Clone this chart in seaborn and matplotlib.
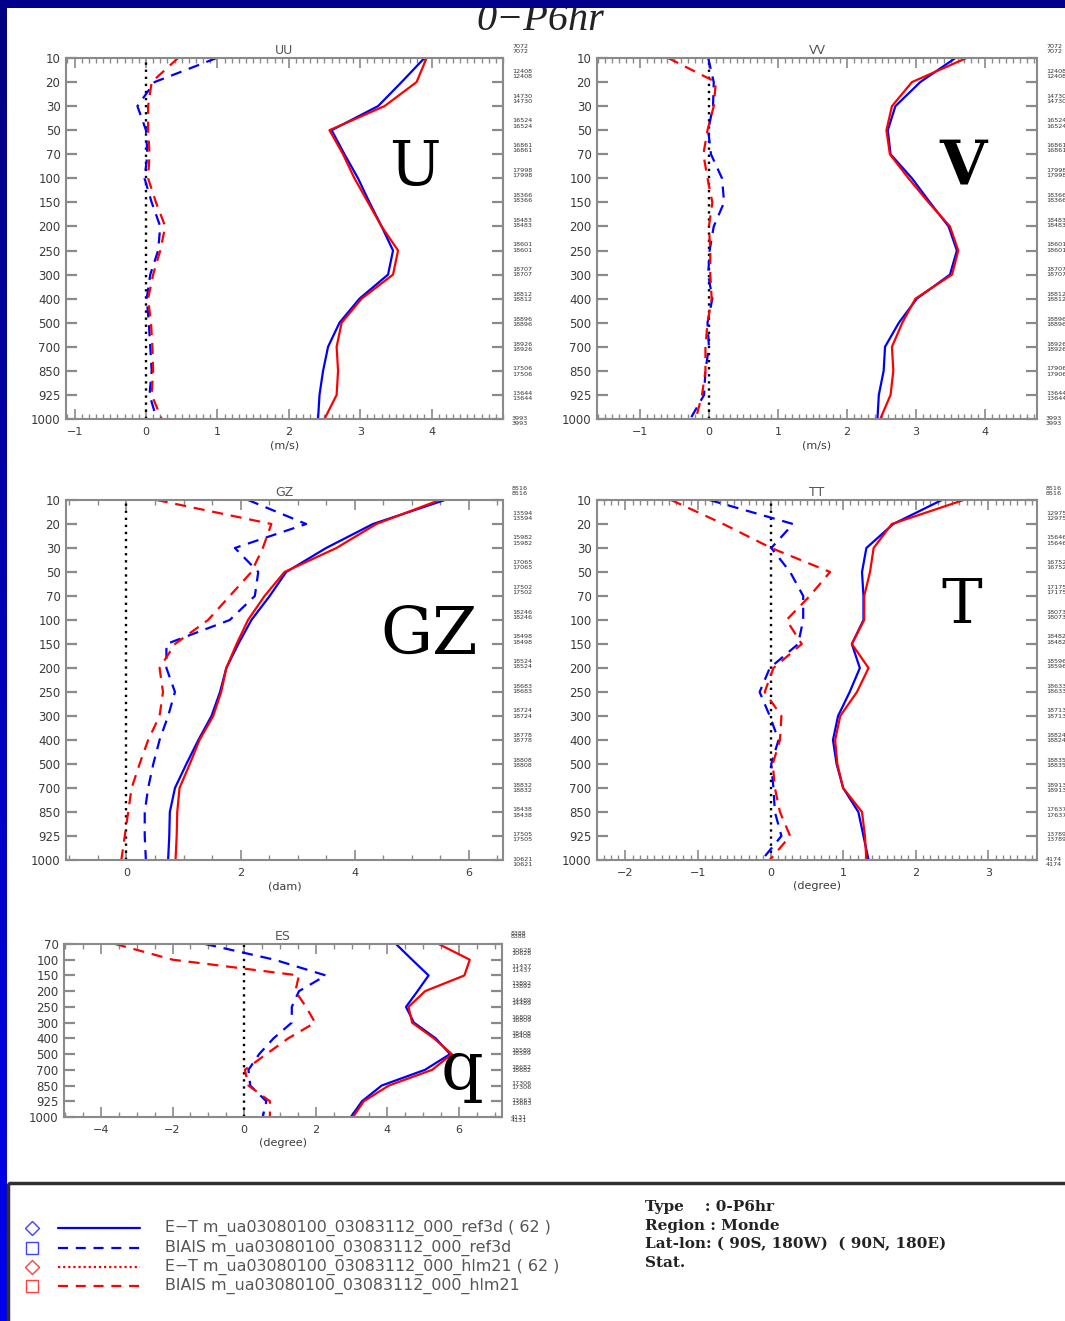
import numpy as np
import matplotlib
matplotlib.use("Agg")
import matplotlib.pyplot as plt
from matplotlib.colors import LinearSegmentedColormap
from matplotlib.patches import Rectangle
from matplotlib.ticker import MultipleLocator, NullLocator
import seaborn as sns

# ---------------- data ----------------
LEVELS = [10, 20, 30, 50, 70, 100, 150, 200, 250, 300, 400, 500, 700, 850, 925, 1000]
ES_LEVELS = [70, 100, 150, 200, 250, 300, 400, 500, 700, 850, 925, 1000]

UU_ET_REF = [3.90, 3.58, 3.25, 2.60, 2.78, 2.97, 3.13, 3.30, 3.46, 3.39, 2.99, 2.71, 2.55, 2.48, 2.43, 2.41]
UU_ET_HLM = [3.93, 3.79, 3.34, 2.57, 2.76, 2.92, 3.11, 3.30, 3.53, 3.46, 3.02, 2.74, 2.67, 2.69, 2.67, 2.50]
UU_BIAS_REF = [0.99, 0.12, -0.12, 0.00, 0.02, -0.02, 0.08, 0.20, 0.17, 0.06, 0.01, 0.04, 0.06, 0.08, 0.05, 0.15]
UU_BIAS_HLM = [0.45, 0.08, 0.03, 0.03, 0.05, 0.03, 0.14, 0.27, 0.20, 0.10, 0.03, 0.07, 0.09, 0.10, 0.08, 0.22]

VV_ET_REF = [3.57, 3.06, 2.70, 2.59, 2.63, 2.94, 3.20, 3.47, 3.59, 3.49, 3.01, 2.75, 2.55, 2.53, 2.46, 2.44]
VV_ET_HLM = [3.73, 2.94, 2.65, 2.57, 2.62, 2.89, 3.18, 3.49, 3.61, 3.52, 2.99, 2.80, 2.65, 2.67, 2.63, 2.48]
VV_BIAS_REF = [-0.01, 0.07, 0.06, -0.01, 0.03, 0.19, 0.22, 0.07, 0.01, -0.01, 0.05, -0.02, 0.00, -0.05, -0.07, -0.27]
VV_BIAS_HLM = [-0.59, 0.10, 0.07, -0.02, -0.08, -0.02, 0.05, 0.00, 0.02, 0.02, 0.04, -0.02, -0.05, -0.05, -0.10, -0.19]

GZ_ET_REF = [5.58, 4.32, 3.50, 2.80, 2.51, 2.19, 1.96, 1.75, 1.64, 1.49, 1.26, 1.05, 0.85, 0.76, 0.75, 0.73]
GZ_ET_HLM = [5.49, 4.38, 3.68, 2.77, 2.42, 2.13, 1.93, 1.75, 1.66, 1.52, 1.28, 1.11, 0.93, 0.89, 0.88, 0.86]
GZ_BIAS_REF = [2.13, 3.15, 1.90, 2.31, 2.25, 1.81, 0.70, 0.70, 0.85, 0.73, 0.58, 0.47, 0.38, 0.32, 0.32, 0.34]
GZ_BIAS_HLM = [0.53, 2.54, 2.39, 2.19, 1.81, 1.43, 0.85, 0.58, 0.64, 0.58, 0.38, 0.23, 0.09, 0.03, -0.03, -0.09]

TT_ET_REF = [2.36, 1.69, 1.32, 1.26, 1.28, 1.28, 1.12, 1.23, 1.09, 0.93, 0.86, 0.91, 1.00, 1.21, 1.28, 1.35]
TT_ET_HLM = [2.66, 1.67, 1.42, 1.37, 1.29, 1.29, 1.12, 1.35, 1.19, 0.96, 0.89, 0.92, 1.00, 1.26, 1.30, 1.32]
TT_BIAS_REF = [-0.84, 0.31, 0.01, 0.27, 0.45, 0.45, 0.38, -0.01, -0.15, -0.01, 0.11, 0.01, 0.04, 0.06, 0.15, -0.12]
TT_BIAS_HLM = [-1.37, -0.65, 0.01, 0.82, 0.54, 0.22, 0.43, 0.04, -0.08, 0.15, 0.13, 0.03, 0.06, 0.13, 0.27, -0.01]

ES_ET_REF = [4.24, 4.69, 5.15, 4.84, 4.52, 4.74, 5.35, 5.75, 5.05, 3.84, 3.29, 2.98]
ES_ET_HLM = [5.43, 6.30, 6.15, 5.05, 4.59, 4.69, 5.30, 5.80, 5.25, 4.04, 3.34, 3.04]
ES_BIAS_REF = [-1.09, 0.85, 2.28, 1.53, 1.33, 1.33, 0.82, 0.42, 0.12, 0.17, 0.62, 0.52]
ES_BIAS_HLM = [-3.60, -1.99, 1.53, 1.43, 1.73, 1.98, 1.23, 0.62, 0.02, 0.12, 0.72, 0.72]

UU_N = [7072, 12408, 14730, 16524, 16861, 17998, 18366, 18483, 18601, 18707, 18812, 18896, 18926, 17506, 13644, 3993]
VV_N = [7072, 12408, 14730, 16524, 16861, 17998, 18366, 18483, 18601, 18707, 18812, 18896, 18926, 17906, 13644, 3993]
GZ_N = [8516, 13594, 15982, 17065, 17502, 18246, 18498, 18524, 18683, 18724, 18778, 18808, 18832, 18438, 17505, 10621]
TT_N = [8516, 12975, 15646, 16752, 17175, 18073, 18482, 18596, 18633, 18713, 18824, 18835, 18913, 17637, 13789, 4174]
ES_N = [8388, 10628, 11437, 13892, 14489, 16809, 18408, 18589, 18682, 17306, 13663, 4131]

LEGEND_LABELS = ["E\u2212T m_ua03080100_03083112_000_ref3d ( 62 )",
                 "BIAIS m_ua03080100_03083112_000_ref3d",
                 "E\u2212T m_ua03080100_03083112_000_hlm21 ( 62 )",
                 "BIAIS m_ua03080100_03083112_000_hlm21"]
INFO_LINES = ["Type    : 0-P6hr", "Region : Monde",
              "Lat-lon: ( 90S, 180W)  ( 90N, 180E)", "Stat."]

# ---------------- style ----------------
sns.set_style("ticks")
plt.rcParams['font.family'] = ['DejaVu Sans']
plt.rcParams['axes.edgecolor'] = '#8a8a8a'
plt.rcParams['axes.linewidth'] = 1.5

W, H = 1065, 1321
fig = plt.figure(figsize=(W / 100, H / 100), dpi=100)
fig.patch.set_facecolor('white')

BLUE = '#0000ff'
RED = '#ff0000'
DASH = (0, (5, 3.5))
GRAY = '#8a8a8a'
TXT = '#3a3a3a'


def px_rect(x0, y0, x1, y1):
    return [x0 / W, 1 - y1 / H, (x1 - x0) / W, (y1 - y0) / H]


# background: blue gradient strip on the left, legend frame
bg = fig.add_axes([0, 0, 1, 1], zorder=0)
grad = np.linspace(0, 1, 256).reshape(-1, 1)
cmap = LinearSegmentedColormap.from_list('bl', ['#000080', '#0000f0'])
bg.imshow(grad, extent=[0, 6.5, H, 0], cmap=cmap, aspect='auto', zorder=1)
bg.add_patch(Rectangle((8, 1183), W, 200, fill=False, edgecolor='#303030', lw=2.5, zorder=2))
bg.set_xlim(0, W)
bg.set_ylim(H, 0)
bg.axis('off')

# legend
leg_y = [1228, 1248, 1267, 1286]
markers = ['D', 's', 'D', 's']
mcols = [BLUE, BLUE, RED, RED]
lstyles = ['-', (0, (4.5, 3.5)), (0, (1, 1.3)), (0, (4.5, 3.5))]
for y, mk, c, ls, lab in zip(leg_y, markers, mcols, lstyles, LEGEND_LABELS):
    bg.plot([32], [y], marker=mk, ms=9 if mk == 's' else 7, mfc='none', mec=c, mew=1.0,
            alpha=0.75, zorder=3)
    bg.plot([58, 140], [y, y], color=c, lw=1.6, ls=ls, zorder=3)
    bg.text(165, y, lab, fontsize=11.4, color='#555555', va='center', ha='left', zorder=3,
            family='DejaVu Sans')
for i, line in enumerate(INFO_LINES):
    bg.text(645, 1207 + i * 18.7, line, fontsize=11.0, color='#222222', va='center', ha='left',
            family='DejaVu Serif', fontweight='bold', zorder=3)


def panel(box, title, xlabel, levels, series, counts, xlim, xticks, minor,
          gap=2.6, lab_size=8.5):
    ax = fig.add_axes(px_rect(*box), zorder=1)
    ax.set_facecolor('white')
    pos = np.arange(len(levels))
    et_ref, bias_ref, et_hlm, bias_hlm = series
    ax.axvline(0, color='black', lw=1.7, ls=(0, (1, 2.0)), zorder=1)
    for vals, col, ls in [(bias_ref, BLUE, DASH), (bias_hlm, RED, DASH),
                          (et_ref, BLUE, '-'), (et_hlm, RED, '-')]:
        sns.lineplot(x=vals, y=pos, ax=ax, color=col, linestyle=ls, linewidth=1.6,
                     orient='y', estimator=None, legend=False)
    ax.set_ylim(len(levels) - 1, 0)
    ax.set_xlim(*xlim)
    ax.set_yticks(pos, [str(l) for l in levels])
    ax.yaxis.set_minor_locator(NullLocator())
    ax.tick_params(axis='y', which='major', direction='in', length=8, width=1.6, colors=GRAY,
                   left=True, right=True, labelcolor=TXT, labelsize=lab_size, pad=4)
    ax.set_xticks(xticks, [f"{t:d}".replace('-', '\u2212') for t in xticks])
    ax.xaxis.set_minor_locator(MultipleLocator(minor))
    ax.tick_params(axis='x', which='major', direction='in', length=7, width=1.2, colors=GRAY,
                   top=True, bottom=True, labelcolor=TXT, labelsize=8, pad=6)
    ax.tick_params(axis='x', which='minor', direction='in', length=3.5, width=1.0, colors=GRAY,
                   top=True, bottom=True)
    ax.set_xlabel(xlabel, fontsize=8, color=TXT, labelpad=2)
    ax.set_ylabel('')
    ax.set_title(title, fontsize=9, color='#555555', pad=3)
    for s in ax.spines.values():
        s.set_color(GRAY)
        s.set_linewidth(1.5)
    # observation counts on the right side
    wpx = box[2] - box[0]
    hpx = box[3] - box[1]
    centers = np.linspace(1 + 9 / hpx, -2 / hpx, len(levels))
    for c, n in zip(centers, counts):
        for d in (gap, -gap):
            ax.text(1 + 9 / wpx, c + d / hpx, str(n), transform=ax.transAxes, fontsize=4.6,
                    color='#333333', va='center', ha='left', clip_on=False)
    return ax


panel((66, 58, 503, 419), 'UU', '(m/s)', LEVELS,
      (UU_ET_REF, UU_BIAS_REF, UU_ET_HLM, UU_BIAS_HLM), UU_N,
      (-1.12, 5.0), [-1, 0, 1, 2, 3, 4], 0.1)
panel((597, 58, 1037, 419), 'VV', '(m/s)', LEVELS,
      (VV_ET_REF, VV_BIAS_REF, VV_ET_HLM, VV_BIAS_HLM), VV_N,
      (-1.62, 4.75), [-1, 0, 1, 2, 3, 4], 0.1)
panel((66, 500, 503, 860), 'GZ', '(dam)', LEVELS,
      (GZ_ET_REF, GZ_BIAS_REF, GZ_ET_HLM, GZ_BIAS_HLM), GZ_N,
      (-1.06, 6.6), [0, 2, 4, 6], 0.5)
panel((597, 500, 1037, 860), 'TT', '(degree)', LEVELS,
      (TT_ET_REF, TT_BIAS_REF, TT_ET_HLM, TT_BIAS_HLM), TT_N,
      (-2.39, 3.67), [-2, -1, 0, 1, 2, 3], 0.1)
panel((64, 944, 502, 1117), 'ES', '(degree)', ES_LEVELS,
      (ES_ET_REF, ES_BIAS_REF, ES_ET_HLM, ES_BIAS_HLM), ES_N,
      (-5.03, 7.2), [-4, -2, 0, 2, 4, 6], 0.5, gap=1.6)

# big variable letters
for txt, x, y, fs, fw in [('U', 415, 168, 44, 'normal'), ('V', 963, 167, 44, 'bold'),
                          ('GZ', 429, 636, 47, 'normal'), ('T', 962, 606, 44, 'normal'),
                          ('q', 462, 1070, 48, 'normal')]:
    fig.text(x / W, 1 - y / H, txt, fontsize=fs, fontweight=fw, family='DejaVu Serif',
             ha='center', va='center', color='black', zorder=5)

# main title (top partly hidden by the banner)
fig.text(540 / W, 1 - 30 / H, '0\u2212P6hr', fontsize=29, style='italic',
         family='Liberation Serif', ha='center', va='baseline', color='#222222', zorder=3)
top = fig.add_axes([0, 1 - 8 / H, 1, 8 / H], zorder=6)
top.set_facecolor('#00008b')
top.set_xticks([])
top.set_yticks([])
for s in top.spines.values():
    s.set_visible(False)

fig.savefig('out.png', dpi=100)
